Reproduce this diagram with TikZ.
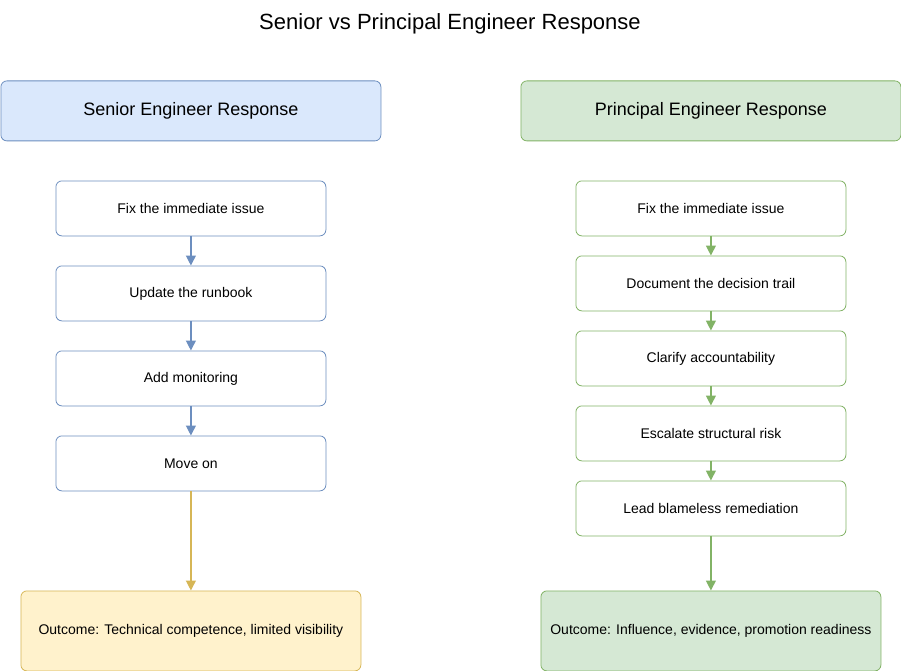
\documentclass[tikz,border=0pt]{standalone}
\usepackage{fontspec}
\setmainfont{Liberation Sans}
\usetikzlibrary{arrows.meta}
\definecolor{bfill}{HTML}{DAE8FC}\definecolor{bline}{HTML}{6C8EBF}
\definecolor{gfill}{HTML}{D5E8D4}\definecolor{gline}{HTML}{82B366}
\definecolor{yfill}{HTML}{FFF2CC}\definecolor{yline}{HTML}{D6B656}
\begin{document}
\begin{tikzpicture}[x=1pt,y=-1pt,
 box/.style={draw,rounded corners=6pt,inner sep=0pt,anchor=north west,font=\fontsize{14}{16}\selectfont,line width=0.8pt},
 hdr/.style={box,minimum width=380pt,minimum height=60pt,font=\fontsize{18}{21}\selectfont},
 stepbox/.style={box,fill=white,minimum width=270pt,minimum height=55pt},
 outc/.style={box,minimum width=340pt,minimum height=80pt},
 arr/.style={-{Triangle[length=10pt,width=10pt]},line width=1.2pt}]
\useasboundingbox (0,0) rectangle (901,671);
\node[font=\fontsize{22}{26}\selectfont] (title) at (450,24) {Senior vs Principal Engineer Response};
\node[hdr,fill=bfill,draw=bline] (sh) at (0.5,80.5) {Senior Engineer Response};
\node[hdr,fill=gfill,draw=gline] (ph) at (520.5,80.5) {Principal Engineer Response};
\begin{scope}[every node/.append style={stepbox,draw=bline}]
\node (s1) at (55.5,180.5) {Fix the immediate issue};
\node (s2) at (55.5,265.5) {Update the runbook};
\node (s3) at (55.5,350.5) {Add monitoring};
\node (s4) at (55.5,435.5) {Move on};
\end{scope}
\begin{scope}[every node/.append style={stepbox,draw=gline}]
\node (p1) at (575.5,180.5) {Fix the immediate issue};
\node (p2) at (575.5,255.5) {Document the decision trail};
\node (p3) at (575.5,330.5) {Clarify accountability};
\node (p4) at (575.5,405.5) {Escalate structural risk};
\node (p5) at (575.5,480.5) {Lead blameless remediation};
\end{scope}
\node[outc,fill=yfill,draw=yline] (so) at (20.5,590.5) {Outcome: Technical competence, limited visibility};
\node[outc,fill=gfill,draw=gline] (po) at (540.5,590.5) {Outcome: Influence, evidence, promotion readiness};
\foreach \a/\b in {s1/s2,s2/s3,s3/s4} \draw[arr,bline] (\a.south) -- (\b.north);
\draw[arr,yline] (s4.south) -- (so.north);
\foreach \a/\b in {p1/p2,p2/p3,p3/p4,p4/p5,p5/po} \draw[arr,gline] (\a.south) -- (\b.north);
\end{tikzpicture}
\end{document}
